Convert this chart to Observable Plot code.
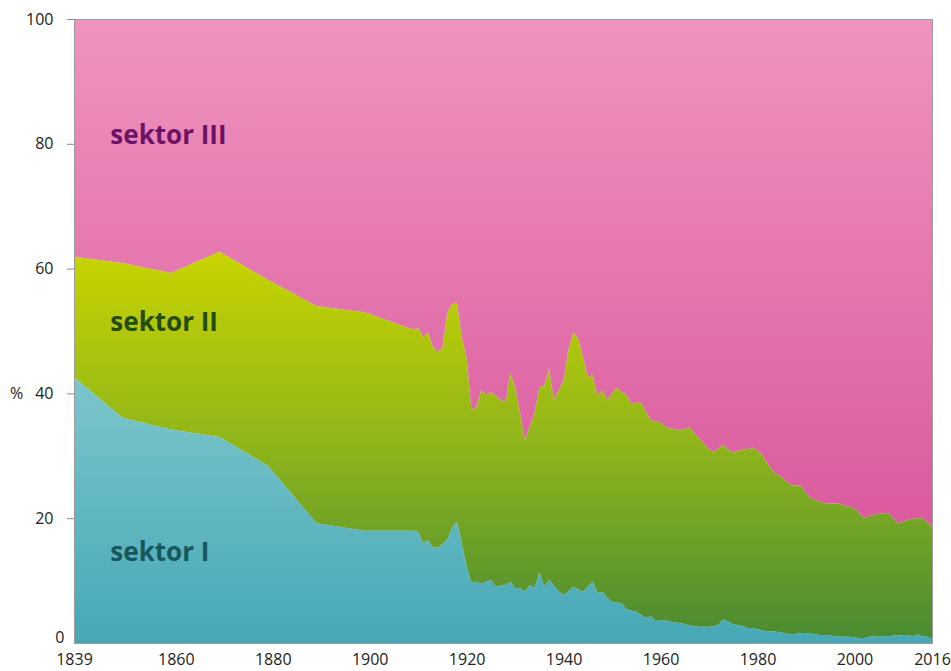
<!DOCTYPE html>
<html>
<head>
<meta charset="utf-8">
<script src="https://cdn.jsdelivr.net/npm/d3@7"></script>
<script src="https://cdn.jsdelivr.net/npm/@observablehq/plot@0.6"></script>
<style>
  html, body { margin: 0; padding: 0; background: #fff; }
  #chart { width: 951px; height: 671px; }
</style>
</head>
<body>
<div id="chart"></div>
<script>
const years = [1839, 1849, 1859, 1869, 1879, 1889, 1899,
  1909, 1910, 1911, 1912, 1913, 1914, 1915, 1916, 1917, 1918, 1919,
  1920, 1921, 1922, 1923, 1924, 1925, 1926, 1927, 1928, 1929,
  1930, 1931, 1932, 1933, 1934, 1935, 1936, 1937, 1938, 1939,
  1940, 1941, 1942, 1943, 1944, 1945, 1946, 1947, 1948, 1949,
  1950, 1951, 1952, 1953, 1954, 1955, 1956, 1957, 1958, 1959,
  1960, 1961, 1962, 1963, 1964, 1965, 1966, 1967, 1968, 1969,
  1970, 1971, 1972, 1973, 1974, 1975, 1976, 1977, 1978, 1979,
  1980, 1981, 1982, 1983, 1984, 1985, 1986, 1987, 1988, 1989,
  1990, 1991, 1992, 1993, 1994, 1995, 1996, 1997, 1998, 1999,
  2000, 2001, 2002, 2003, 2004, 2005, 2006, 2007, 2008, 2009,
  2010, 2011, 2012, 2013, 2014, 2015, 2016];

const sektorI = [42.6, 36.1, 34.2, 33.0, 28.4, 19.2, 18.0,
  18.0, 17.8, 16.0, 16.5, 15.3, 15.3, 15.8, 16.6, 18.5, 19.4, 16.0,
  12.2, 9.6, 9.8, 9.5, 9.8, 10.1, 9.0, 9.2, 9.3, 9.8,
  8.8, 8.8, 8.2, 9.3, 8.8, 11.3, 9.0, 10.1, 9.2, 8.3,
  7.7, 8.3, 9.0, 8.6, 8.2, 9.0, 9.8, 8.0, 8.2, 7.2,
  6.6, 6.5, 6.3, 5.4, 5.2, 5.0, 4.5, 4.0, 4.3, 3.5,
  3.7, 3.6, 3.4, 3.3, 3.2, 3.0, 2.8, 2.7, 2.6, 2.6,
  2.6, 2.7, 3.0, 3.8, 3.4, 3.0, 2.9, 2.7, 2.4, 2.4,
  2.2, 2.0, 1.9, 1.9, 1.8, 1.7, 1.5, 1.4, 1.5, 1.6,
  1.6, 1.5, 1.4, 1.3, 1.3, 1.2, 1.1, 1.1, 1.0, 1.0,
  0.9, 0.8, 0.8, 1.0, 1.1, 1.0, 1.1, 1.1, 1.2, 1.2,
  1.3, 1.3, 1.1, 1.4, 1.1, 1.0, 0.7];

const sektorII = [19.3, 24.8, 25.1, 29.7, 29.8, 34.8, 35.0,
  32.2, 32.7, 33.0, 33.3, 32.2, 31.3, 31.5, 36.3, 35.8, 35.1, 33.0,
  33.5, 27.7, 28.0, 31.0, 29.9, 30.1, 30.6, 29.8, 29.2, 33.5,
  32.2, 28.1, 24.3, 25.3, 28.1, 29.7, 32.2, 33.8, 29.7, 32.2,
  34.4, 38.7, 40.8, 40.2, 37.6, 33.5, 33.2, 31.6, 32.3, 31.7,
  33.4, 34.4, 33.9, 34.3, 33.1, 33.5, 34.0, 33.0, 31.4, 32.0,
  31.7, 31.0, 31.0, 30.9, 30.9, 31.3, 31.8, 30.8, 30.2, 29.2,
  28.4, 27.9, 28.2, 27.9, 27.6, 27.5, 27.9, 28.3, 28.7, 28.9,
  28.6, 28.1, 26.9, 25.8, 25.2, 24.9, 24.3, 23.9, 23.8, 23.6,
  22.4, 21.7, 21.5, 21.3, 21.1, 21.2, 21.2, 21.2, 21.0, 20.8,
  20.7, 20.0, 19.2, 19.3, 19.4, 19.7, 19.7, 19.7, 18.8, 17.9,
  18.2, 18.4, 18.8, 18.6, 18.9, 18.4, 17.9];

const sektorIII = [38.1, 39.1, 40.7, 37.3, 41.8, 46.0, 47.0,
  49.8, 49.5, 51.0, 50.2, 52.5, 53.4, 52.7, 47.1, 45.7, 45.5, 51.0,
  54.3, 62.7, 62.2, 59.5, 60.3, 59.8, 60.4, 61.0, 61.5, 56.7,
  59.0, 63.1, 67.5, 65.4, 63.1, 59.0, 58.8, 56.1, 61.1, 59.5,
  57.9, 53.0, 50.2, 51.2, 54.2, 57.5, 57.0, 60.4, 59.5, 61.1,
  60.0, 59.1, 59.8, 60.3, 61.7, 61.5, 61.5, 63.0, 64.3, 64.5,
  64.6, 65.4, 65.6, 65.8, 65.9, 65.7, 65.4, 66.5, 67.2, 68.2,
  69.0, 69.4, 68.8, 68.3, 69.0, 69.5, 69.2, 69.0, 68.9, 68.7,
  69.2, 69.9, 71.2, 72.3, 73.0, 73.4, 74.2, 74.7, 74.7, 74.8,
  76.0, 76.8, 77.1, 77.4, 77.6, 77.6, 77.7, 77.7, 78.0, 78.2,
  78.4, 79.2, 80.0, 79.7, 79.5, 79.3, 79.2, 79.2, 80.0, 80.9,
  80.5, 80.3, 80.1, 80.0, 80.0, 80.6, 81.4];

const sectorNames = ["sektor I", "sektor II", "sektor III"];
const xTicks = [1839, 1860, 1880, 1900, 1920, 1940, 1960, 1980, 2000, 2016];
const yTicks = [20, 40, 60, 80, 100];

const series = [sektorI, sektorII, sektorIII];
const rows = [];
sectorNames.forEach((name, si) => {
  years.forEach((yr, i) => rows.push({year: yr, sector: name, value: series[si][i]}));
});

const svgNS = "http://www.w3.org/2000/svg";
function gradientDefs() {
  const defs = document.createElementNS(svgNS, "defs");
  defs.innerHTML = `
    <linearGradient id="gI" x1="0" y1="0" x2="0" y2="1">
      <stop offset="0" stop-color="#7cc6cc"/>
      <stop offset="1" stop-color="#46a8b6"/>
    </linearGradient>
    <linearGradient id="gII" x1="0" y1="0" x2="0" y2="1">
      <stop offset="0" stop-color="#c8d400"/>
      <stop offset="0.5" stop-color="#8fb51b"/>
      <stop offset="1" stop-color="#4a8b32"/>
    </linearGradient>
    <linearGradient id="gIII" x1="0" y1="0" x2="0" y2="1">
      <stop offset="0" stop-color="#ef94be"/>
      <stop offset="1" stop-color="#da5a9e"/>
    </linearGradient>`;
  return defs;
}

const chart = Plot.plot({
  width: 951,
  height: 671,
  marginLeft: 74,
  marginRight: 19,
  marginTop: 19,
  marginBottom: 28,
  style: {fontFamily: "'Open Sans', sans-serif", fontSize: "16px", color: "#222", background: "#fff"},
  x: {domain: [1839, 2016]},
  y: {domain: [0, 100]},
  color: {domain: sectorNames, range: ["url(#gI)", "url(#gII)", "url(#gIII)"]},
  marks: [
    gradientDefs,
    Plot.areaY(rows, Plot.stackY({x: "year", y: "value", z: "sector", fill: "sector", order: sectorNames})),
    Plot.frame({stroke: "#9a9a9a", strokeWidth: 1}),
    Plot.axisX(xTicks, {tickSize: 0, tickPadding: 10, tickFormat: d => String(d), label: null, fontSize: 16}),
    Plot.axisY(yTicks, {tickSize: 7, tickPadding: 14, stroke: "#888", label: null, fontSize: 16}),
    Plot.axisY([0], {tickSize: 0, tickPadding: 10, dy: -6, label: null, fontSize: 16}),
    Plot.text(["%"], {x: 1839, y: 40, dx: -58, textAnchor: "middle", fontSize: 16, fill: "#222"}),
    Plot.text(["sektor III"], {x: 1846.4, y: 81.4, textAnchor: "start", fontSize: 26, fontWeight: "bold", fill: "#6d1264"}),
    Plot.text(["sektor II"], {x: 1846.4, y: 51.4, textAnchor: "start", fontSize: 26, fontWeight: "bold", fill: "#234b14"}),
    Plot.text(["sektor I"], {x: 1846.4, y: 14.6, textAnchor: "start", fontSize: 26, fontWeight: "bold", fill: "#17575c"})
  ]
});
document.getElementById("chart").appendChild(chart);
</script>
</body>
</html>
